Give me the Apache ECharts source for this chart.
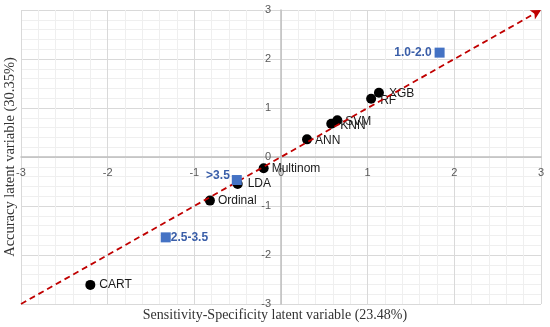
<!DOCTYPE html>
<html>
<head>
<meta charset="utf-8">
<script src="https://cdn.jsdelivr.net/npm/echarts@6/dist/echarts.min.js"></script>
<style>
html,body{margin:0;padding:0;background:#fff;}
#chart{width:550px;height:327px;}
</style>
</head>
<body>
<div id="chart"></div>
<script>
// ---- data ----
var methodNames = ['CART', 'Ordinal', 'LDA', 'Multinom', 'ANN', 'KNN', 'SVM', 'RF', 'XGB'];
var methodX = [-2.20, -0.82, -0.50, -0.20, 0.30, 0.58, 0.65, 1.04, 1.13];
var methodY = [-2.61, -0.89, -0.55, -0.23, 0.36, 0.68, 0.75, 1.19, 1.31];

var groupNames = ['2.5-3.5', '>3.5', '1.0-2.0'];
var groupX = [-1.33, -0.51, 1.83];
var groupY = [-1.64, -0.47, 2.13];

var diagonalStart = [-3, -3];
var diagonalEnd = [3, 3];

var axisTicks = [-3, -2, -1, 0, 1, 2, 3];
var xTitle = 'Sensitivity-Specificity latent variable (23.48%)';
var yTitle = 'Accuracy latent variable (30.35%)';

// ---- label styling (not data) ----
var methodLabelStyle = {
  'CART': {pos: 'right', dist: 4, dy: 0},
  'Ordinal': {pos: 'right', dist: 3, dy: 0},
  'LDA': {pos: 'right', dist: 5, dy: 0},
  'Multinom': {pos: 'right', dist: 3, dy: 0},
  'ANN': {pos: 'right', dist: 3, dy: 1},
  'KNN': {pos: 'right', dist: 4, dy: 2},
  'SVM': {pos: 'right', dist: 3, dy: 1},
  'RF': {pos: 'right', dist: 4, dy: 2},
  'XGB': {pos: 'right', dist: 5, dy: 1}
};
var groupLabelStyle = {
  '2.5-3.5': {pos: 'right', dist: 0, dy: 0, dx: 0},
  '>3.5': {pos: 'left', dist: 2, dy: -4, dx: 0},
  '1.0-2.0': {pos: 'left', dist: 3, dy: 0, dx: 0}
};

var methodData = methodNames.map(function (n, i) {
  var s = methodLabelStyle[n];
  return {
    name: n,
    value: [methodX[i], methodY[i]],
    label: {position: s.pos, distance: s.dist, offset: [0, s.dy]}
  };
});
var groupData = groupNames.map(function (n, i) {
  var s = groupLabelStyle[n];
  return {
    name: n,
    value: [groupX[i], groupY[i]],
    label: {position: s.pos, distance: s.dist, offset: [s.dx, s.dy]}
  };
});

var chart = echarts.init(document.getElementById('chart'), null, {renderer: 'canvas'});

var W = 550, H = 327;
var gridL = 21, gridR = 9, gridT = 10, gridB = 23;
var plotW = W - gridL - gridR, plotH = H - gridT - gridB;
var lo = axisTicks[0], hi = axisTicks[axisTicks.length - 1];
// distance from grid edge to the zero line (axes cross at zero, Excel style)
var xAxisOffset = -plotH * (0 - lo) / (hi - lo);
var yAxisOffset = -plotW * (0 - lo) / (hi - lo);

function axisBase() {
  return {
    type: 'value',
    min: lo,
    max: hi,
    interval: 1,
    axisLine: {show: true, onZero: false, lineStyle: {color: '#bfbfbf', width: 1.5}},
    axisTick: {show: false},
    splitLine: {show: true, lineStyle: {color: '#d9d9d9', width: 1}},
    minorTick: {show: false, splitNumber: 5},
    minorSplitLine: {show: true, lineStyle: {color: '#efefef', width: 1}},
    axisLabel: {color: '#595959', fontSize: 11, margin: 10, fontFamily: 'Liberation Sans, Arial, sans-serif', showMinLabel: true, showMaxLabel: true}
  };
}
var xAx = axisBase(); xAx.position = 'bottom'; xAx.offset = xAxisOffset;
var yAx = axisBase(); yAx.position = 'left'; yAx.offset = yAxisOffset;

var option = {
  backgroundColor: '#fff',
  animation: false,
  grid: {left: gridL, right: gridR, top: gridT, bottom: gridB, containLabel: false},
  xAxis: xAx,
  yAxis: yAx,
  graphic: [
    {
      type: 'text', left: 'center', top: 308,
      style: {text: xTitle, fill: '#333333', font: '14px "Liberation Serif", "DejaVu Serif", serif'}
    },
    {
      type: 'text', x: 3, y: 157, rotation: Math.PI / 2,
      style: {text: yTitle, fill: '#333333', font: '14.5px "Liberation Serif", "DejaVu Serif", serif', align: 'center', verticalAlign: 'top'}
    }
  ],
  series: [
    {
      type: 'scatter',
      name: 'methods',
      symbol: 'circle',
      symbolSize: 10,
      itemStyle: {color: '#000000', opacity: 1},
      label: {show: true, formatter: '{b}', color: '#1a1a1a', fontSize: 12, fontFamily: 'Liberation Sans, Arial, sans-serif'},
      data: methodData,
      z: 3
    },
    {
      type: 'line',
      name: 'diagonal',
      data: [],
      symbol: 'none',
      markLine: {
        silent: true,
        symbol: ['none', 'arrow'],
        symbolSize: [8, 10],
        label: {show: false},
        lineStyle: {color: '#c00000', type: [6, 4], width: 1.8},
        data: [[{coord: diagonalStart}, {coord: diagonalEnd}]]
      },
      z: 4
    },
    {
      type: 'scatter',
      name: 'groups',
      symbol: 'rect',
      symbolSize: 10,
      itemStyle: {color: '#4472c4', opacity: 1},
      label: {show: true, formatter: '{b}', color: '#3a5ea8', fontSize: 12, fontWeight: 'bold', fontFamily: 'Liberation Sans, Arial, sans-serif'},
      data: groupData,
      z: 5
    }
  ]
};

chart.setOption(option);
</script>
</body>
</html>
